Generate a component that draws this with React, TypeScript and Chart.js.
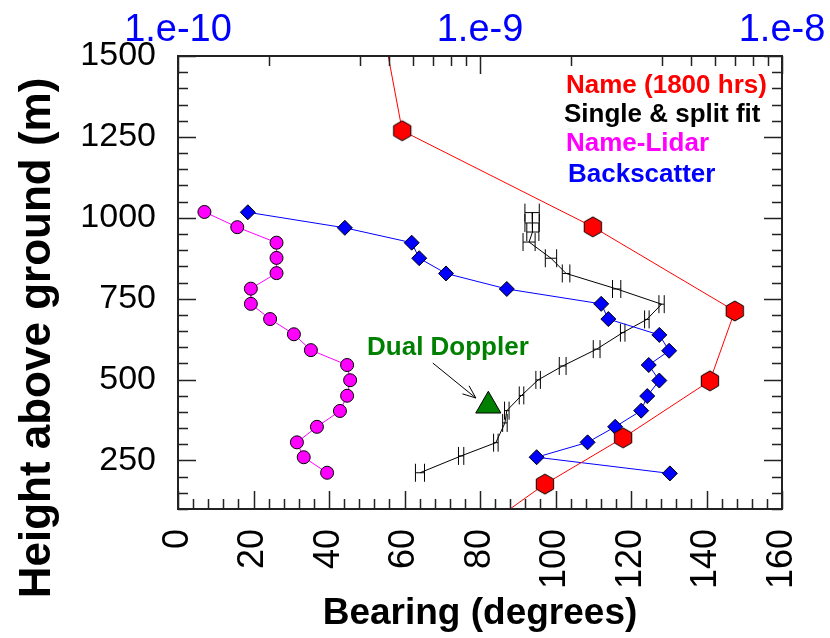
import React, { useEffect, useRef } from 'react';
import { Chart, registerables } from 'chart.js';

Chart.register(...registerables);

// ---- data ----
const nameBearing = [53.7, 59.4, 109.9, 147.5, 140.9, 117.9, 97.2, 76.4];
const nameHeight = [1624, 1269, 972, 712, 496, 320, 177, 4];

const singleBearing = [93.8, 93.8, 94.0, 93.0, 98.8, 102.8, 116.2, 128.1, 124.2, 117.8, 110.9, 101.9, 95.4, 91.0, 87.1, 86.6, 84.2, 75.0, 64.1];
const singleHeight = [1016, 984, 956, 925, 875, 828, 780, 733, 686, 645, 594, 542, 499, 451, 404, 366, 305, 264, 212];
const singleError = [1.9, 1.9, 1.6, 1.6, 1.5, 1.0, 1.1, 0.7, 0.6, 0.6, 0.9, 0.9, 0.6, 0.6, 0.6, 0.6, 0.6, 0.7, 1.2];

const lidarBearing = [7.0, 15.7, 26.1, 26.1, 26.1, 19.3, 19.3, 24.4, 30.7, 35.2, 44.8, 45.6, 44.8, 42.9, 36.8, 31.5, 33.3, 39.5];
const lidarHeight = [1018, 971, 923, 876, 829, 781, 734, 687, 640, 591, 545, 498, 450, 403, 354, 306, 260, 212];

const backBearing = [18.5, 44.2, 61.9, 63.9, 71.0, 87.1, 112.1, 114.0, 127.5, 130.1, 124.7, 127.5, 124.3, 122.7, 115.8, 108.5, 95.0, 130.3];
const backHeight = [1017, 969, 923, 875, 828, 780, 734, 687, 638, 589, 545, 497, 449, 404, 354, 306, 260, 210];

const dualBearing = [82.2];
const dualHeight = [419];

// annotation: arrow from label to Dual Doppler point
const arrowFrom = [67.5, 551];
const arrowTo = [78.9, 443];
const dualLabelAt = [71.5, 598];

const bearingTicks = [0, 20, 40, 60, 80, 100, 120, 140, 160];
const heightTicks = [250, 500, 750, 1000, 1250, 1500];
const fluxTicks = [1e-10, 1e-9, 1e-8];
const fluxTickLabels = ['1.e-10', '1.e-9', '1.e-8'];
const fluxMinorMultipliers = [2, 4, 5, 6, 7, 8, 9];

const legendEntries = ['Name (1800 hrs)', 'Single & split fit', 'Name-Lidar', 'Backscatter'];
const legendColors = ['#ff0000', '#000000', '#ff00ff', '#0000ff'];

const FONT = "'Liberation Sans', Arial, Helvetica, sans-serif";

function makeHexagon(r: number, fill: string): HTMLCanvasElement {
  const size = Math.ceil(r * 2 + 4);
  const c = document.createElement('canvas');
  c.width = size;
  c.height = size;
  const ctx = c.getContext('2d')!;
  const cx = size / 2;
  const cy = size / 2;
  ctx.beginPath();
  for (let i = 0; i < 6; i++) {
    const a = -Math.PI / 2 + (i * Math.PI) / 3;
    const px = cx + r * Math.cos(a);
    const py = cy + r * Math.sin(a);
    if (i === 0) ctx.moveTo(px, py);
    else ctx.lineTo(px, py);
  }
  ctx.closePath();
  ctx.fillStyle = fill;
  ctx.fill();
  ctx.lineWidth = 1;
  ctx.strokeStyle = '#000';
  ctx.stroke();
  return c;
}

const overlayPlugin = {
  id: 'overlay',
  afterDatasetDraw(chart: any, args: any) {
    const ds = chart.data.datasets[args.index];
    if (!ds.errors) return;
    const { ctx, chartArea } = chart;
    const xs = chart.scales.x;
    const ys = chart.scales.y;
    ctx.save();
    ctx.beginPath();
    ctx.rect(chartArea.left, chartArea.top, chartArea.right - chartArea.left, chartArea.bottom - chartArea.top);
    ctx.clip();
    ctx.strokeStyle = '#000';
    ctx.lineWidth = 1;
    ds.data.forEach((p: any, i: number) => {
      const e = ds.errors[i];
      const x1 = xs.getPixelForValue(p.x - e);
      const x2 = xs.getPixelForValue(p.x + e);
      const y = ys.getPixelForValue(p.y);
      ctx.beginPath();
      ctx.moveTo(x1, y);
      ctx.lineTo(x2, y);
      ctx.moveTo(x1, y - 9);
      ctx.lineTo(x1, y + 9);
      ctx.moveTo(x2, y - 9);
      ctx.lineTo(x2, y + 9);
      ctx.stroke();
    });
    ctx.restore();
  },
  afterDraw(chart: any) {
    const { ctx, chartArea } = chart;
    const { left, right, top, bottom } = chartArea;
    const xs = chart.scales.x;
    const ys = chart.scales.y;
    const xt = chart.scales.x2;
    ctx.save();
    // inward tick marks
    ctx.strokeStyle = '#222';
    ctx.lineWidth = 1.5;
    ctx.beginPath();
    for (let v = 100; v <= 1500; v += 50) {
      const y = Math.round(ys.getPixelForValue(v)) + 0.5;
      const len = v % 250 === 0 ? 18 : 10;
      ctx.moveTo(left, y);
      ctx.lineTo(left + len, y);
      ctx.moveTo(right, y);
      ctx.lineTo(right - len, y);
    }
    for (let v = 0; v <= 160; v += 4) {
      const x = Math.round(xs.getPixelForValue(v)) + 0.5;
      const len = v % 20 === 0 ? 18 : 10;
      ctx.moveTo(x, bottom);
      ctx.lineTo(x, bottom - len);
    }
    for (let d = 0; d < fluxTicks.length; d++) {
      const dec = fluxTicks[d];
      const xm = Math.round(xt.getPixelForValue(dec)) + 0.5;
      ctx.moveTo(xm, top);
      ctx.lineTo(xm, top + 18);
      if (d < fluxTicks.length - 1) {
        fluxMinorMultipliers.forEach((k) => {
          const x = Math.round(xt.getPixelForValue(k * dec)) + 0.5;
          ctx.moveTo(x, top);
          ctx.lineTo(x, top + 10);
        });
      }
    }
    ctx.stroke();
    // frame
    ctx.lineWidth = 2;
    ctx.strokeStyle = '#222';
    ctx.strokeRect(left, top, right - left, bottom - top);

    // legend texts
    ctx.font = `bold 26px ${FONT}`;
    ctx.textAlign = 'left';
    ctx.textBaseline = 'middle';
    const legX = right - 216;
    const legY = [top + 30, top + 59, top + 88, top + 119];
    legendEntries.forEach((t, i) => {
      ctx.fillStyle = legendColors[i];
      ctx.fillText(t, legX + (i === 1 ? -2 : i === 3 ? 2 : 0), legY[i]);
    });

    // Dual Doppler label + arrow
    ctx.fillStyle = '#008000';
    ctx.textAlign = 'center';
    ctx.fillText('Dual Doppler', xs.getPixelForValue(dualLabelAt[0]), ys.getPixelForValue(dualLabelAt[1]));
    const ax1 = xs.getPixelForValue(arrowFrom[0]);
    const ay1 = ys.getPixelForValue(arrowFrom[1]);
    const ax2 = xs.getPixelForValue(arrowTo[0]);
    const ay2 = ys.getPixelForValue(arrowTo[1]);
    const ang = Math.atan2(ay2 - ay1, ax2 - ax1);
    ctx.strokeStyle = '#000';
    ctx.lineWidth = 1;
    ctx.beginPath();
    ctx.moveTo(ax1, ay1);
    ctx.lineTo(ax2, ay2);
    const hl = 14;
    const ha = 0.38;
    ctx.moveTo(ax2 - hl * Math.cos(ang - ha), ay2 - hl * Math.sin(ang - ha));
    ctx.lineTo(ax2, ay2);
    ctx.lineTo(ax2 - hl * Math.cos(ang + ha), ay2 - hl * Math.sin(ang + ha));
    ctx.stroke();

    // axis titles
    ctx.fillStyle = '#000';
    ctx.font = `bold 37px ${FONT}`;
    ctx.textAlign = 'center';
    ctx.textBaseline = 'alphabetic';
    ctx.fillText('Bearing (degrees)', (left + right) / 2, 624);
    ctx.save();
    ctx.translate(50, 338);
    ctx.rotate(-Math.PI / 2);
    ctx.font = `bold 44px ${FONT}`;
    ctx.fillText('Height above ground (m)', 0, 0);
    ctx.restore();
    ctx.restore();
  },
};

const noScalePadding = (s: any) => {
  s.paddingLeft = 0;
  s.paddingRight = 0;
  s.paddingTop = 0;
  s.paddingBottom = 0;
};

export default function App() {
  const canvasRef = useRef<HTMLCanvasElement | null>(null);

  useEffect(() => {
    if (!canvasRef.current) return;
    const hex = makeHexagon(10, '#ff0000');
    const toPts = (xs: number[], ys: number[]) => xs.map((x, i) => ({ x, y: ys[i] }));
    const chart = new Chart(canvasRef.current, {
      type: 'scatter',
      data: {
        datasets: [
          {
            label: 'Name (1800 hrs)',
            data: toPts(nameBearing, nameHeight),
            showLine: true,
            borderColor: '#ff0000',
            borderWidth: 1,
            pointStyle: hex as any,
            pointRadius: 10,
            backgroundColor: '#ff0000',
          },
          {
            label: 'Backscatter',
            data: toPts(backBearing, backHeight),
            showLine: true,
            borderColor: '#0000ff',
            borderWidth: 1,
            pointStyle: 'rectRot',
            pointRadius: 7.5,
            pointBackgroundColor: '#0000ff',
            pointBorderColor: '#000',
            pointBorderWidth: 1,
          },
          {
            label: 'Single & split fit',
            data: toPts(singleBearing, singleHeight),
            errors: singleError,
            showLine: true,
            borderColor: '#000',
            borderWidth: 1,
            pointRadius: 0,
          } as any,
          {
            label: 'Name-Lidar',
            data: toPts(lidarBearing, lidarHeight),
            showLine: true,
            borderColor: '#ff00ff',
            borderWidth: 1,
            pointStyle: 'circle',
            pointRadius: 6.5,
            pointBackgroundColor: '#ff00ff',
            pointBorderColor: '#000',
            pointBorderWidth: 1,
          },
          {
            label: 'Dual Doppler',
            data: toPts(dualBearing, dualHeight),
            showLine: false,
            pointStyle: 'triangle',
            pointRadius: 14.5,
            pointBackgroundColor: '#008000',
            pointBorderColor: '#000',
            pointBorderWidth: 1,
          },
        ],
      },
      options: {
        animation: false,
        responsive: false,
        events: [],
        layout: { padding: { left: 0, right: 48, top: 0, bottom: 0 }, autoPadding: false },
        plugins: { legend: { display: false }, tooltip: { enabled: false } },
        scales: {
          x: {
            type: 'linear',
            position: 'bottom',
            min: 0,
            max: 160,
            afterBuildTicks: (s: any) => {
              s.ticks = bearingTicks.map((v) => ({ value: v }));
            },
            afterFit: (s: any) => {
              s.height = 129;
              noScalePadding(s);
            },
            grid: { display: false, drawTicks: false },
            border: { display: false },
            ticks: {
              autoSkip: false,
              minRotation: 90,
              maxRotation: 90,
              padding: 20,
              color: '#000',
              font: { family: FONT, size: 36 },
              callback: (v: any) => String(v),
            },
          },
          x2: {
            type: 'logarithmic',
            position: 'top',
            min: 1e-10,
            max: 1e-8,
            afterBuildTicks: (s: any) => {
              s.ticks = fluxTicks.map((v) => ({ value: v }));
            },
            afterFit: (s: any) => {
              s.height = 56;
              noScalePadding(s);
            },
            grid: { display: false, drawTicks: false },
            border: { display: false },
            ticks: {
              autoSkip: false,
              maxRotation: 0,
              padding: 3,
              color: '#0000ff',
              font: { family: FONT, size: 38 },
              callback: (_v: any, i: number) => fluxTickLabels[i],
            },
          },
          y: {
            type: 'linear',
            position: 'left',
            min: 100,
            max: 1500,
            afterBuildTicks: (s: any) => {
              s.ticks = heightTicks.map((v) => ({ value: v }));
            },
            afterFit: (s: any) => {
              s.width = 178;
              noScalePadding(s);
            },
            grid: { display: false, drawTicks: false },
            border: { display: false },
            ticks: {
              autoSkip: false,
              padding: 22,
              color: '#000',
              font: { family: FONT, size: 34 },
              callback: (v: any) => String(v),
            },
          },
        },
      },
      plugins: [overlayPlugin],
    });
    return () => chart.destroy();
  }, []);

  return (
    <div style={{ position: 'absolute', left: 0, top: 0, width: 830, height: 638, background: '#fff' }}>
      <canvas ref={canvasRef} width={830} height={638} style={{ display: 'block' }} />
    </div>
  );
}
